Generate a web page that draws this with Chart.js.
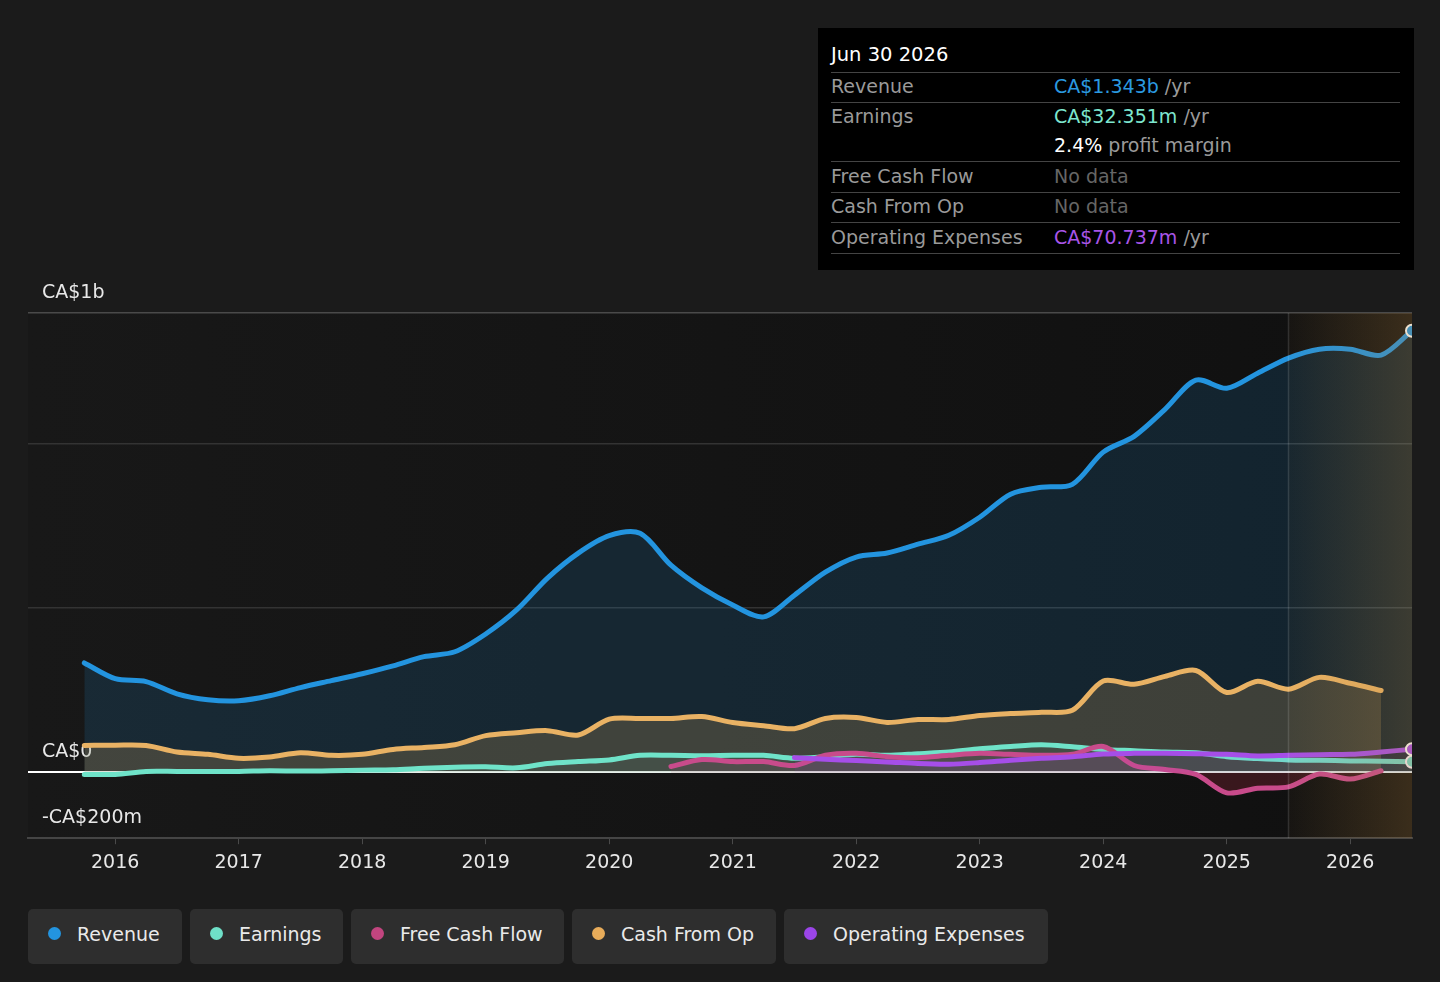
<!DOCTYPE html>
<html>
<head>
<meta charset="utf-8">
<script src="https://cdn.jsdelivr.net/npm/chart.js@4.4.1/dist/chart.umd.min.js"></script>
<style>
html,body{margin:0;padding:0;background:#1b1b1b;width:1440px;height:982px;overflow:hidden;font-family:"DejaVu Sans",sans-serif;}
#wrap{position:absolute;left:0;top:0;width:1440px;height:900px;}
#tip{position:absolute;left:818px;top:28px;width:596px;height:242px;background:#000;}
#tip .title{position:absolute;left:13px;top:14px;font-size:19.5px;color:#fff;line-height:26px;}
#tip .row{position:absolute;left:13px;width:569px;height:30px;line-height:29px;font-size:19px;color:#9a9a9a;border-bottom:1px solid #444;}
#tip .row.noline{border-bottom:none;}
#tip .row .v{position:absolute;left:223px;top:0;}
#tip .line0{position:absolute;left:13px;top:44px;width:569px;height:0;border-top:1px solid #444;}
#legend{position:absolute;left:28px;top:909px;height:55px;display:flex;gap:8px;}
#legend .item{height:55px;background:#2e2e2e;border-radius:5px;box-sizing:border-box;padding-left:20px;padding-bottom:6px;display:flex;align-items:center;font-size:19px;color:#eaeaea;}
#legend .dot{width:13px;height:13px;border-radius:50%;margin-right:16px;display:inline-block;}
</style>
</head>
<body>
<div id="wrap"><canvas id="c"></canvas></div>
<div id="tip">
  <div class="title">Jun 30 2026</div>
  <div class="line0"></div>
  <div class="row" style="top:44px">Revenue<span class="v"><span style="color:#2b9ae0">CA$1.343b</span> /yr</span></div>
  <div class="row noline" style="top:74px">Earnings<span class="v"><span style="color:#7de6cf">CA$32.351m</span> /yr</span></div>
  <div class="row" style="top:103px"><span class="v"><span style="color:#fff">2.4%</span> profit margin</span></div>
  <div class="row" style="top:134px">Free Cash Flow<span class="v" style="color:#666">No data</span></div>
  <div class="row" style="top:164px">Cash From Op<span class="v" style="color:#666">No data</span></div>
  <div class="row" style="top:195px">Operating Expenses<span class="v"><span style="color:#a855e8">CA$70.737m</span> /yr</span></div>
</div>
<div id="legend">
  <div class="item" style="width:154px"><span class="dot" style="background:#2394df"></span>Revenue</div>
  <div class="item" style="width:153px"><span class="dot" style="background:#6fe0c8"></span>Earnings</div>
  <div class="item" style="width:213px"><span class="dot" style="background:#c2457f"></span>Free Cash Flow</div>
  <div class="item" style="width:204px"><span class="dot" style="background:#e8ac5a"></span>Cash From Op</div>
  <div class="item" style="width:264px"><span class="dot" style="background:#9b45e8"></span>Operating Expenses</div>
</div>
<script>
// ---- data (values in CA$ millions) ----
const periods = [2015.75,2016,2016.25,2016.5,2016.75,2017,2017.25,2017.5,2017.75,2018,2018.25,2018.5,2018.75,2019,2019.25,2019.5,2019.75,2020,2020.25,2020.5,2020.75,2021,2021.25,2021.5,2021.75,2022,2022.25,2022.5,2022.75,2023,2023.25,2023.5,2023.75,2024,2024.25,2024.5,2024.75,2025,2025.25,2025.5,2025.75,2026,2026.25,2026.5];
const revenue = [333,285,276,239,221,218,233,258,279,300,324,352,367,421,494,591,667,720,727,630,561,509,473,539,609,655,667,694,721,776,846,867,876,974,1022,1104,1193,1168,1214,1260,1287,1287,1269,1343];
const earnings = [-6,-6,3,3,3,3,5,4,5,7,8,13,16,17,14,27,33,38,52,52,51,52,52,43,48,55,52,57,62,72,79,84,78,70,66,62,60,48,42,38,37,35,34,32.351];
const freeCashFlow = [null,null,null,null,null,null,null,null,null,null,null,null,null,null,null,null,null,null,null,18,39,33,33,21,52,58,48,45,52,58,55,52,55,79,21,9,-6,-62,-48,-44,-5,-20,5,null];
const cashFromOp = [82,83,82,62,55,43,47,60,52,55,70,76,84,112,121,127,114,162,164,164,170,152,142,133,164,167,152,161,161,173,179,183,189,278,268,292,310,243,277,253,289,271,249,null];
const operatingExpenses = [null,null,null,null,null,null,null,null,null,null,null,null,null,null,null,null,null,null,null,null,null,null,null,45,40,36,32,27,25,30,37,43,48,56,58,58,57,55,50,52,54,55,62,70.737];
const yearTicks = [2016,2017,2018,2019,2020,2021,2022,2023,2024,2025,2026];
const yTicks = [-200,0,500,1000,1397];
const yTickLabels = ['-CA$200m','CA$0','','','CA$1b'];
const forecastStart = 2025.5;
const xMin = 2015.294, xMax = 2026.5;

function pts(arr){ return arr.map((v,i)=>({x:periods[i], y:v})); }
const lastIdx = periods.length - 1;
function endDot(ctx){ return ctx.dataIndex === lastIdx ? 6 : 0; }

const bgPlugin = {
  id:'bg',
  beforeDraw(chart){
    const {ctx, chartArea:a} = chart;
    const g = ctx.createLinearGradient(a.left,0,a.right,0);
    g.addColorStop(0,'#181818');
    g.addColorStop(1,'#101010');
    ctx.save(); ctx.fillStyle = g; ctx.fillRect(a.left,a.top,a.right-a.left,a.bottom-a.top); ctx.restore();
  }
};
const forecastPlugin = {
  id:'forecast',
  afterDatasetsDraw(chart){
    const {ctx, chartArea:a, scales:{x}} = chart;
    const fx = x.getPixelForValue(forecastStart);
    const g = ctx.createLinearGradient(fx,0,a.right,0);
    g.addColorStop(0,'rgba(180,130,60,0.04)');
    g.addColorStop(1,'rgba(180,130,60,0.26)');
    ctx.save();
    ctx.fillStyle = g; ctx.fillRect(fx,a.top,a.right-fx,a.bottom-a.top);
    ctx.strokeStyle = 'rgba(255,255,255,0.13)'; ctx.lineWidth = 1.5;
    ctx.beginPath(); ctx.moveTo(fx,a.top); ctx.lineTo(fx,a.bottom); ctx.stroke();
    ctx.restore();
  }
};

const common = {borderWidth:5, tension:0.3, pointBorderColor:'#ffffff', pointBorderWidth:2, pointHoverRadius:0, spanGaps:false, clip:0, borderCapStyle:'round', borderJoinStyle:'round'};

new Chart(document.getElementById('c'), {
  type:'line',
  data:{datasets:[
    Object.assign({label:'Revenue', data:pts(revenue), borderColor:'#2394df', backgroundColor:'rgba(35,148,223,0.15)', pointBackgroundColor:'#2394df', fill:'origin', order:5, pointRadius:endDot}, common),
    Object.assign({label:'Cash From Op', data:pts(cashFromOp), borderColor:'#e9b264', backgroundColor:'rgba(233,178,100,0.2)', fill:'origin', order:4, pointRadius:0}, common),
    Object.assign({label:'Earnings', data:pts(earnings), borderColor:'#6fe3c9', backgroundColor:'rgba(111,227,201,0.08)', pointBackgroundColor:'#6fe3c9', fill:'origin', order:3, pointRadius:endDot}, common),
    Object.assign({label:'Free Cash Flow', data:pts(freeCashFlow), borderColor:'#c84b8b', fill:{target:'origin', above:'rgba(200,75,139,0.10)', below:'rgba(160,40,60,0.28)'}, order:2, pointRadius:0}, common),
    Object.assign({label:'Operating Expenses', data:pts(operatingExpenses), borderColor:'#a64ee8', backgroundColor:'rgba(166,78,232,0.08)', pointBackgroundColor:'#a64ee8', fill:'origin', order:1, pointRadius:endDot}, common)
  ]},
  options:{
    responsive:true, maintainAspectRatio:false, animation:false,
    layout:{padding:{left:0, right:28, top:313, bottom:19}},
    plugins:{legend:{display:false}, tooltip:{enabled:false}},
    events:[],
    scales:{
      x:{type:'linear', min:xMin, max:xMax,
        afterBuildTicks:s=>{ s.ticks = yearTicks.map(v=>({value:v})); },
        ticks:{color:'#e8e8e8', font:{size:19, family:'DejaVu Sans', lineHeight:1.2}, padding:7, maxRotation:0, autoSkip:false, callback:v=>String(v)},
        grid:{drawOnChartArea:false, drawTicks:true, tickLength:6, color:'#4a4a4a', tickColor:'#4a4a4a'},
        border:{display:true, color:'#454545', width:2}
      },
      y:{min:-200, max:1397,
        afterBuildTicks:s=>{ s.ticks = yTicks.map(v=>({value:v})); },
        ticks:{mirror:true, padding:14, labelOffset:-20, color:'#e8e8e8', font:{size:19, family:'DejaVu Sans'}, callback:(v,i)=>yTickLabels[i]},
        grid:{drawTicks:false, color:c=> c.tick.value===0 ? '#ffffff' : ((c.index===0||c.index===yTicks.length-1) ? '#4a4a4a' : '#333333'), lineWidth:c=> c.tick.value===0 ? 2 : 1.5},
        border:{display:false}
      }
    }
  },
  plugins:[bgPlugin, forecastPlugin]
});
</script>
</body>
</html>
